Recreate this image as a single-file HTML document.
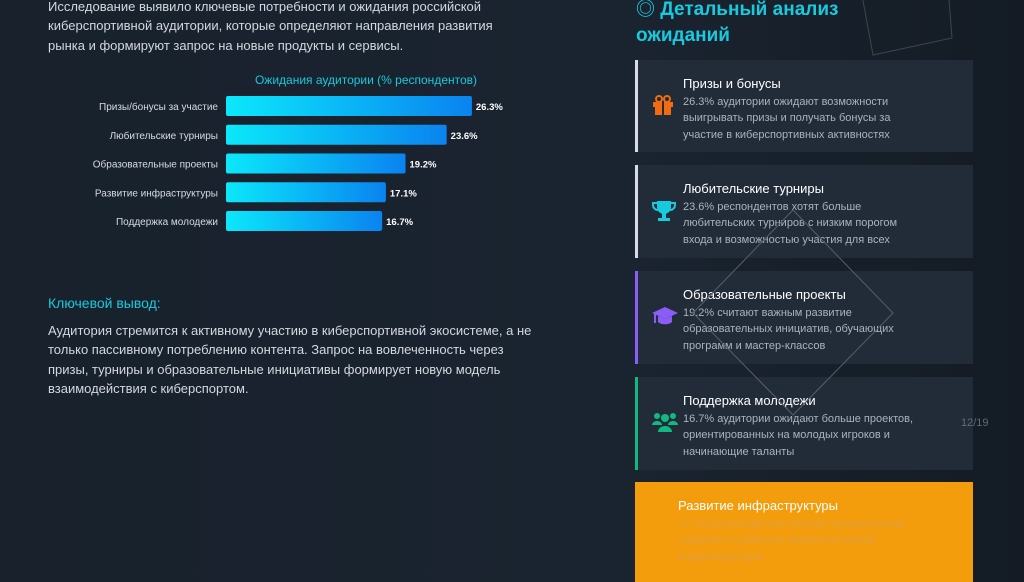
<!DOCTYPE html>
<html><head><meta charset="utf-8"><style>
body{margin:0;width:1024px;height:574px;overflow:hidden;background:linear-gradient(90deg,#18212c 0%,#1a2430 60%,#141b24 100%);font-family:"Liberation Sans","Noto Sans CJK SC",sans-serif;position:relative}
.t{position:absolute;white-space:nowrap}
.p{color:#d3d8de;font-size:13px;line-height:19.3px;left:48px}
.card{position:absolute;left:635px;width:338px;background:#222c38;border-left:3px solid #d8dde3;box-sizing:border-box}
.card h4{position:absolute;margin:0;font-weight:normal;color:#fff;font-size:13px;left:45px;top:16px}
.card .d{position:absolute;left:45px;top:34px;font-size:11px;line-height:16.3px;color:#aab3bd;white-space:nowrap}
.ic{position:absolute;left:14px;top:34px}
</style></head><body>
<div class="t p" style="top:-3px">Исследование выявило ключевые потребности и ожидания российской<br>киберспортивной аудитории, которые определяют направления развития<br>рынка и формируют запрос на новые продукты и сервисы.</div>
<svg class="t" style="left:0;top:60px" width="560" height="180" id="chart">
<defs><linearGradient id="g" x1="0" x2="1"><stop offset="0" stop-color="#0be8fb"/><stop offset="1" stop-color="#0a83f0"/></linearGradient></defs>
<text x="366" y="24" text-anchor="middle" fill="#19c9dd" font-size="12">Ожидания аудитории (% респондентов)</text>
</svg>
<script>
const categories=["Призы/бонусы за участие","Любительские турниры","Образовательные проекты","Развитие инфраструктуры","Поддержка молодежи"];
const values=[26.3,23.6,19.2,17.1,16.7];
const svg=document.getElementById('chart');
const x=v=>v*9.35, y=i=>46+i*28.75;
const ns="http://www.w3.org/2000/svg";
categories.forEach((c,i)=>{
 const r=document.createElementNS(ns,'rect');
 r.setAttribute('x',226);r.setAttribute('y',y(i)-10);r.setAttribute('width',x(values[i]));r.setAttribute('height',20);r.setAttribute('rx',2);r.setAttribute('fill','url(#g)');
 
 
 svg.appendChild(r);
 const l=document.createElementNS(ns,'text');
 l.setAttribute('x',218);l.setAttribute('y',y(i)+4);l.setAttribute('text-anchor','end');l.setAttribute('fill','#d6dbe0');l.setAttribute('font-size','10');l.textContent=c;
 
 
 svg.appendChild(l);
 const v=document.createElementNS(ns,'text');
 v.setAttribute('x',226+x(values[i])+4);v.setAttribute('y',y(i)+4);v.setAttribute('fill','#fff');v.setAttribute('font-size','9.5');v.setAttribute('font-weight','bold');v.textContent=values[i].toFixed(1)+'%';
 
 
 svg.appendChild(v);
});
</script>
<div class="t" style="left:48px;top:295px;color:#19c9dd;font-size:14px">Ключевой вывод:</div>
<div class="t p" style="top:321px">Аудитория стремится к активному участию в киберспортивной экосистеме, а не<br>только пассивному потреблению контента. Запрос на вовлеченность через<br>призы, турниры и образовательные инициативы формирует новую модель<br>взаимодействия с киберспортом.</div>
<div class="t" style="left:636px;top:-3px;color:#19c9dd;font-size:19px;font-weight:bold;line-height:26px">◎ Детальный анализ<br>ожиданий</div>
<div class="card" style="top:60px;height:92px"><svg class="ic" width="22" height="22"><rect x="1" y="8" width="20" height="5" fill="#f26b10"/><rect x="3" y="13" width="16" height="8" fill="#f26b10"/><rect x="10" y="8" width="2" height="13" fill="#222c38"/><circle cx="7" cy="5" r="3" fill="none" stroke="#f26b10" stroke-width="2"/><circle cx="15" cy="5" r="3" fill="none" stroke="#f26b10" stroke-width="2"/></svg><h4>Призы и бонусы</h4><div class="d">26.3% аудитории ожидают возможности<br>выигрывать призы и получать бонусы за<br>участие в киберспортивных активностях</div></div>
<div class="card" style="top:165px;height:93px"><svg class="ic" width="24" height="24"><path d="M5 2h14v6a7 7 0 0 1-14 0z" fill="#19c9dd"/><path d="M5 4H1v2a5 5 0 0 0 5 5M19 4h4v2a5 5 0 0 1-5 5" fill="none" stroke="#19c9dd" stroke-width="2"/><rect x="10" y="14" width="4" height="5" fill="#19c9dd"/><rect x="6" y="19" width="12" height="3" fill="#19c9dd"/></svg><h4>Любительские турниры</h4><div class="d">23.6% респондентов хотят больше<br>любительских турниров с низким порогом<br>входа и возможностью участия для всех</div></div>
<div class="card" style="top:271px;height:93px;border-left-color:#8b5cf6"><svg class="ic" width="26" height="22"><polygon points="13,2 26,8 13,14 0,8" fill="#8b5cf6"/><path d="M6 11v6c3 3 11 3 14 0v-6l-7 3z" fill="#8b5cf6"/><rect x="2" y="9" width="2" height="9" fill="#8b5cf6"/></svg><h4>Образовательные проекты</h4><div class="d">19.2% считают важным развитие<br>образовательных инициатив, обучающих<br>программ и мастер-классов</div></div>
<div class="card" style="top:377px;height:93px;border-left-color:#10b981"><svg class="ic" width="26" height="22"><circle cx="5" cy="5" r="3" fill="#10b981"/><circle cx="21" cy="5" r="3" fill="#10b981"/><circle cx="13" cy="7" r="4" fill="#10b981"/><path d="M0 14a5 4 0 0 1 10 0zM16 14a5 4 0 0 1 10 0zM6 21a7 6 0 0 1 14 0z" fill="#10b981"/></svg><h4>Поддержка молодежи</h4><div class="d">16.7% аудитории ожидают больше проектов,<br>ориентированных на молодых игроков и<br>начинающие таланты</div></div>
<div class="card" style="top:482px;height:100px;background:#f39c0c;border-left-color:#f39c0c"><h4 style="left:40px">Развитие инфраструктуры</h4><div class="d" style="left:40px;color:#e0a040">17.1% респондентов считают приоритетным<br>создание и развитие киберспортивной<br>инфраструктуры</div></div>
<svg class="t" style="left:0;top:0" width="1024" height="574">
<polygon points="862,-5 947,-25 952,38 873,55" fill="none" stroke="#3a4552" stroke-width="1"/>
<polygon points="793,210 893,313 793,415 693,313" fill="none" stroke="#55606d" stroke-width="1"/>
</svg>
<div class="t" style="left:961px;top:417px;color:#5f6a77;font-size:11px">12/19</div>
</body></html>
